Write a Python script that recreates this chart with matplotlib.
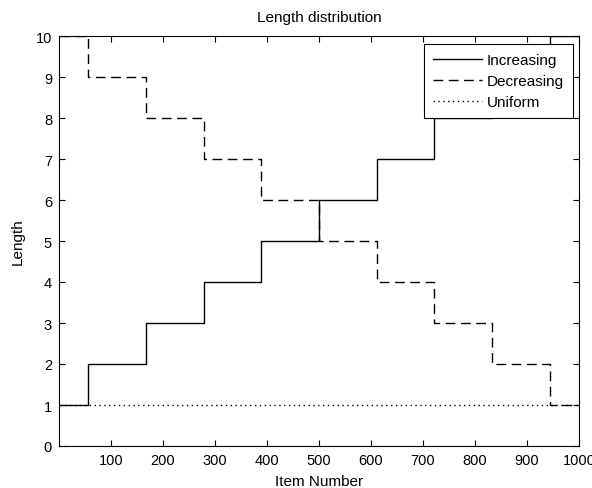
import matplotlib
matplotlib.use("Agg")
import matplotlib.pyplot as plt

# step edges (item number where the length changes) and the lengths per segment
edges = [1, 56, 167, 278, 389, 500, 611, 722, 833, 944, 1000]
increasing = [1, 2, 3, 4, 5, 6, 7, 8, 9, 10]
decreasing = [10, 9, 8, 7, 6, 5, 4, 3, 2, 1]
uniform = [1, 1, 1, 1, 1, 1, 1, 1, 1, 1]
xticks = [100, 200, 300, 400, 500, 600, 700, 800, 900, 1000]
yticks = [0, 1, 2, 3, 4, 5, 6, 7, 8, 9, 10]

plt.rcParams["font.family"] = ["Liberation Sans", "DejaVu Sans"]
plt.rcParams["font.size"] = 10

W, H = 592, 489
fig = plt.figure(figsize=(W / 100, H / 100), dpi=100)
ax = fig.add_axes([59 / W, 1 - 447 / H, (579 - 59) / W, (447 - 37) / H])

ax.step(edges, increasing + [increasing[-1]], where="post", color="k", lw=1,
        label="Increasing")
ax.step(edges, decreasing + [decreasing[-1]], where="post", color="k", lw=1,
        ls=(0, (7, 4)), label="Decreasing")
ax.step(edges, uniform + [uniform[-1]], where="post", color="k", lw=1,
        ls=(0, (1, 2.5)), label="Uniform")

ax.set_xlim(0, 1000)
ax.set_ylim(0, 10)
ax.set_xticks(xticks)
ax.set_yticks(yticks)
ax.tick_params(direction="in", top=True, right=True, length=4, width=0.8,
               labelsize=10.5, pad=5)
for s in ax.spines.values():
    s.set_linewidth(0.8)

ax.set_title("Length distribution", fontsize=11, pad=11)
ax.set_xlabel("Item Number", fontsize=11, labelpad=5)
ax.set_ylabel("Length", fontsize=11, labelpad=8)

leg = ax.legend(loc="upper right", bbox_to_anchor=(573 / W, 1 - 45 / H),
                bbox_transform=fig.transFigure, borderaxespad=0,
                fancybox=False, framealpha=1, edgecolor="k", fontsize=11,
                handlelength=3.2, handletextpad=0.3, borderpad=0.6,
                labelspacing=0.46)
leg.get_frame().set_linewidth(0.8)

fig.savefig("out.png", dpi=100)
